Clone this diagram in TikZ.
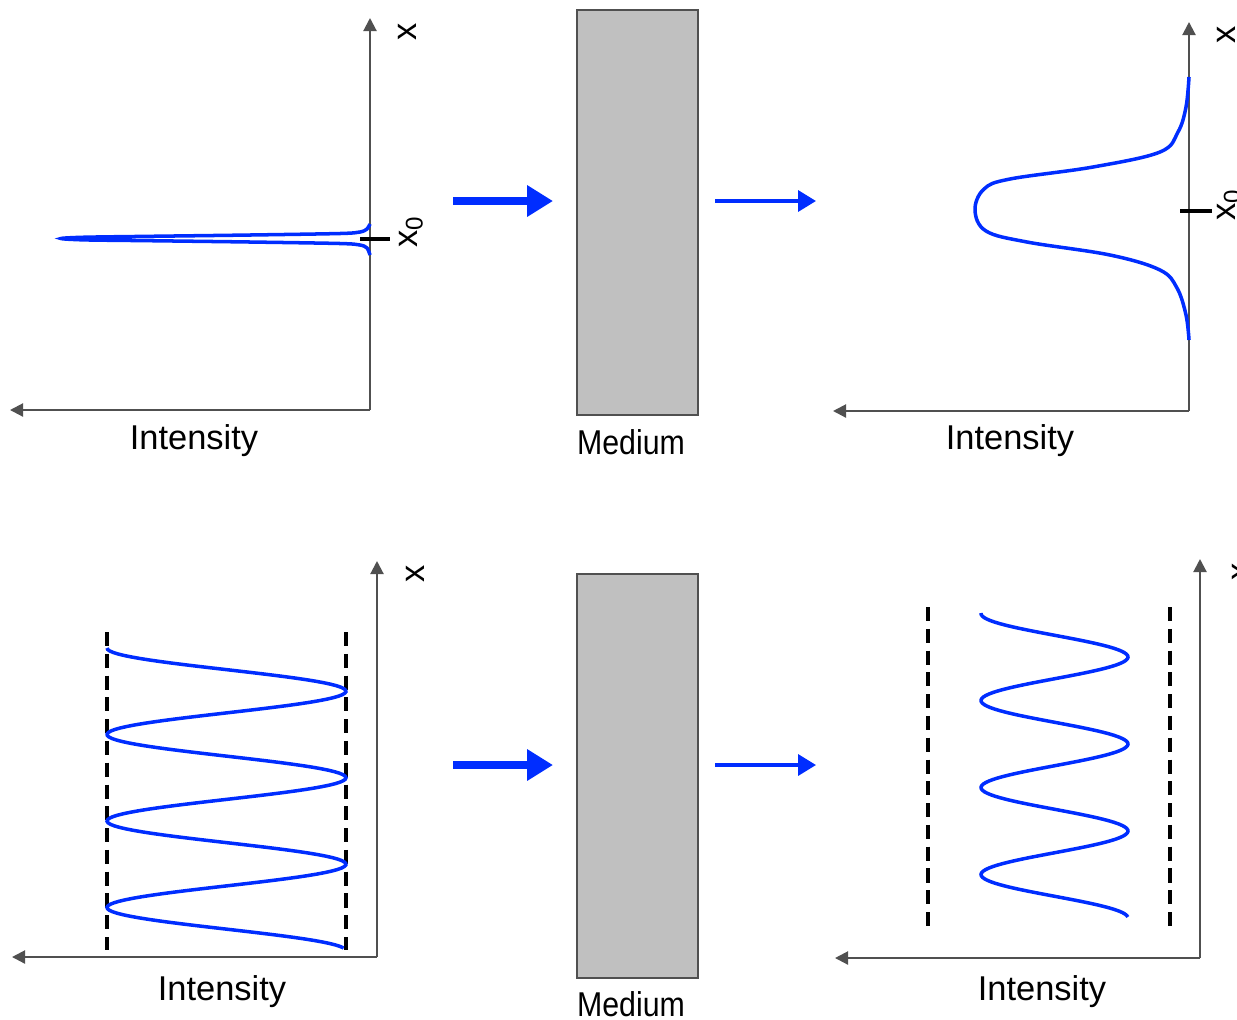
\documentclass[tikz,border=0pt]{standalone}
\usepackage{fontspec}
\setmainfont{Liberation Sans}
\usepackage{xcolor}
\usetikzlibrary{arrows.meta}

\definecolor{waveblue}{RGB}{0,45,255}
\definecolor{axisgray}{RGB}{80,80,80}
\definecolor{mediumgray}{RGB}{192,192,192}

\begin{document}
\begin{tikzpicture}[
    x=0.02cm, y=-0.02cm,
    axis/.style={draw=axisgray, line width=1.2pt, -{Triangle[length=7.4pt, width=7.4pt]}},
    wave/.style={draw=waveblue, line width=2pt},
    bigarrow/.style={draw=waveblue, line width=4.5pt, -{Triangle[length=14.7pt, width=17pt]}},
    smallarrow/.style={draw=waveblue, line width=2pt, -{Triangle[length=10.2pt, width=11.9pt]}},
    guide/.style={draw=black, line width=1.9pt, dash pattern=on 8pt off 4.4pt},
    tick/.style={draw=black, line width=1.9pt},
    medium/.style={draw=axisgray, line width=1.2pt, fill=mediumgray},
    lbl/.style={font=\fontsize{19.6}{22}\selectfont, inner sep=0pt},
    xlbl/.style={font=\fontsize{19.6}{22}\selectfont, inner sep=0pt, rotate=90}
]
\useasboundingbox (0,0) rectangle (1237,1019);

% top row
\coordinate (o1) at (370,410);
\coordinate (y1) at (370,18);
\coordinate (x1) at (10,410);
\draw[axis] (o1) -- (y1);
\draw[axis] (o1) -- (x1);
\node[xlbl] (xa1) at (407,32) {x};
\coordinate (t1a) at (360,239);
\coordinate (t1b) at (390,239);
\draw[tick] (t1a) -- (t1b);
\node[xlbl] (xz1) at (411,232) {x\textsubscript{0}};
\draw[wave] plot[smooth, tension=0.5] coordinates {(370,224) (367,229) (360,232) (340,233.5) (250,235) (150,236.3) (85,237.2) (61,238.5) (85,239.9) (150,240.7) (250,242) (340,243.5) (360,245) (367,248) (370,255)};
\node[lbl] (int1) at (194,441) {Intensity};

\coordinate (ba1) at (453,201);
\coordinate (bb1) at (553,201);
\draw[bigarrow] (ba1) -- (bb1);
\node[medium, minimum width=121*0.02cm, minimum height=405*0.02cm, anchor=north west] (med1) at (576,9) {};
\node[lbl] (mlbl1) at (631,442) {\scalebox{0.88}[1]{Medium}};
\coordinate (sa1) at (715,201);
\coordinate (sb1) at (816,201);
\draw[smallarrow] (sa1) -- (sb1);

\coordinate (o2) at (1189,411);
\coordinate (y2) at (1189,22);
\coordinate (x2) at (833,411);
\draw[axis] (o2) -- (y2);
\draw[axis] (o2) -- (x2);
\node[xlbl] (xa2) at (1226,35) {x};
\coordinate (t2a) at (1180,211);
\coordinate (t2b) at (1212,211);
\draw[tick] (t2a) -- (t2b);
\node[xlbl] (xz2) at (1229,205) {x\textsubscript{0}};
\draw[wave] plot[smooth, tension=0.6] coordinates {(1189,77) (1186,107) (1178,132) (1160,152) (1093,167) (1010,179) (984,189) (975,210) (986,231) (1027,242) (1110,255) (1160,270) (1177,288) (1186,315) (1189,340)};
\node[lbl] (int2) at (1010,441) {Intensity};

% bottom row
\coordinate (o3) at (377,957);
\coordinate (y3) at (377,561);
\coordinate (x3) at (12,957);
\draw[axis] (o3) -- (y3);
\draw[axis] (o3) -- (x3);
\node[xlbl] (xa3) at (415,574) {x};
\coordinate (d3a) at (107,632);
\coordinate (d3b) at (107,950);
\coordinate (d3c) at (346,632);
\coordinate (d3d) at (346,950);
\draw[guide] (d3a) -- (d3b);
\draw[guide] (d3c) -- (d3d);
\draw[wave] plot[domain=648:948, samples=200, variable=\t] ({226.5-119.5*cos(4.1618*(\t-648))}, \t);
\node[lbl] (int3) at (222,992) {Intensity};

\coordinate (ba2) at (453,765);
\coordinate (bb2) at (553,765);
\draw[bigarrow] (ba2) -- (bb2);
\node[medium, minimum width=121*0.02cm, minimum height=404*0.02cm, anchor=north west] (med2) at (576,573) {};
\node[lbl] (mlbl2) at (631,1004) {\scalebox{0.88}[1]{Medium}};
\coordinate (sa2) at (715,765);
\coordinate (sb2) at (816,765);
\draw[smallarrow] (sa2) -- (sb2);

\coordinate (o4) at (1200,958);
\coordinate (y4) at (1200,559);
\coordinate (x4) at (835,958);
\draw[axis] (o4) -- (y4);
\draw[axis] (o4) -- (x4);
\node[xlbl] (xa4) at (1241,572) {x};
\coordinate (d4a) at (928,607);
\coordinate (d4b) at (928,928);
\coordinate (d4c) at (1170,607);
\coordinate (d4d) at (1170,928);
\draw[guide] (d4a) -- (d4b);
\draw[guide] (d4c) -- (d4d);
\draw[wave] plot[domain=613:917, samples=200, variable=\t] ({1054.5+73.5*cos(4.1379*(\t-657))}, \t);
\node[lbl] (int4) at (1042,992) {Intensity};

\end{tikzpicture}
\end{document}
